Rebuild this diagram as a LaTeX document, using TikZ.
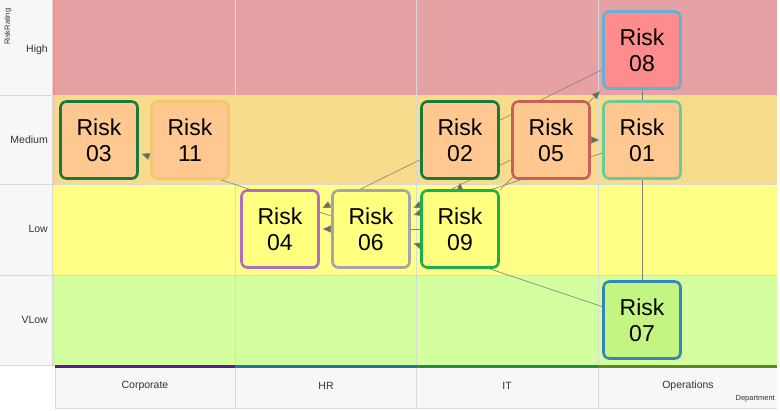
\documentclass[tikz,border=0pt]{standalone}
\usepackage{fontspec}
\setmainfont{Liberation Sans}
\usetikzlibrary{arrows.meta,shadows}
\definecolor{leftbg}{HTML}{F7F7F7}
\definecolor{gridc}{HTML}{D9D9D9}
\definecolor{highbg}{HTML}{E5A1A4}
\definecolor{medbg}{HTML}{F9DC8B}
\definecolor{lowbg}{HTML}{FFFF88}
\definecolor{vlowbg}{HTML}{D4FF9E}
\definecolor{highstrip}{HTML}{FF8A8A}
\definecolor{medstrip}{HTML}{FFC891}
\definecolor{lowstrip}{HTML}{FFFF70}
\definecolor{vlowstrip}{HTML}{C4FF8C}
\definecolor{highfill}{HTML}{FF8C8C}
\definecolor{medfill}{HTML}{FFC891}
\definecolor{lowfill}{HTML}{FFFF80}
\definecolor{vlowfill}{HTML}{C4F583}
\definecolor{dkgreen}{HTML}{187A3C}
\definecolor{ltorange}{HTML}{F3C673}
\definecolor{redbrown}{HTML}{C8605A}
\definecolor{mint}{HTML}{6BCB9A}
\definecolor{ltblue}{HTML}{60B0D8}
\definecolor{purpleb}{HTML}{B06EBB}
\definecolor{grayb}{HTML}{A5A5A5}
\definecolor{brgreen}{HTML}{1AB04A}
\definecolor{blueb}{HTML}{3585B5}
\definecolor{corpc}{HTML}{5B1A8E}
\definecolor{hrc}{HTML}{1A7A9A}
\definecolor{itc}{HTML}{1E9040}
\definecolor{opc}{HTML}{5A8A1A}
\definecolor{edgec}{HTML}{808078}
\definecolor{arrc}{HTML}{6B6B55}
\definecolor{labc}{HTML}{333333}
\pgfdeclarelayer{bg}
\pgfdeclarelayer{edgelayer}
\pgfsetlayers{bg,edgelayer,main}
\begin{document}
\begin{tikzpicture}[x=1pt,y=-1pt,
  risk/.style={draw, line width=2.6pt, rounded corners=6pt, minimum width=77pt,
    minimum height=77pt, align=center, font=\fontsize{23}{26}\selectfont,
    text=black, inner sep=0pt,
    drop shadow={shadow xshift=1.2pt,shadow yshift=-1.5pt,opacity=0.25}},
  link/.style={draw=edgec, line width=0.6pt},
  arr/.style={link, -{Triangle[length=8pt,width=7pt,fill=arrc]}, shorten >=3pt},
  rowlab/.style={anchor=east, font=\fontsize{10.5}{12}\selectfont, text=labc, inner sep=0pt},
  collab/.style={font=\fontsize{10.5}{12}\selectfont, text=labc, inner sep=0pt},
  gridline/.style={draw=gridc, line width=0.7pt}]
\useasboundingbox (0,0) rectangle (780,411);
\begin{pgfonlayer}{bg}
  \fill[white] (0,0) rectangle (780,411);
  \fill[leftbg] (0,0) rectangle (52,365);
  \fill[highbg] (52,0) rectangle (777,95.5);
  \fill[medbg] (52,95.5) rectangle (777,184.5);
  \fill[lowbg] (52,184.5) rectangle (777,275.5);
  \fill[vlowbg] (52,275.5) rectangle (777,365);
  \fill[highstrip] (52,0) rectangle (55,95.5);
  \fill[medstrip] (52,95.5) rectangle (55,184.5);
  \fill[lowstrip] (52,184.5) rectangle (55,275.5);
  \fill[vlowstrip] (52,275.5) rectangle (55,365);
  \draw[gridline] (0,95.5) -- (777,95.5);
  \draw[gridline] (0,184.5) -- (777,184.5);
  \draw[gridline] (0,275.5) -- (777,275.5);
  \draw[gridline] (0,365) -- (55,365);
  \draw[gridline] (52,0) -- (52,365);
  \draw[gridline] (235,0) -- (235,365);
  \draw[gridline] (416,0) -- (416,365);
  \draw[gridline] (598,0) -- (598,365);
  \fill[leftbg] (55,368) rectangle (777,408);
  \draw[gridline] (55,368) -- (55,408) -- (777,408);
  \draw[gridline] (235,368) -- (235,408);
  \draw[gridline] (416,368) -- (416,408);
  \draw[gridline] (598,368) -- (598,408);
  \fill[corpc] (55,365) rectangle (235,368.5);
  \fill[hrc] (235,365) rectangle (416,368.5);
  \fill[itc] (416,365) rectangle (598,368.5);
  \fill[opc] (598,365) rectangle (777,368.5);
\end{pgfonlayer}

% axis labels
\node[rowlab] (lhigh) at (48,50) {High};
\node[rowlab] (lmed) at (48,140) {Medium};
\node[rowlab] (llow) at (48,229) {Low};
\node[rowlab] (lvlow) at (48,320) {VLow};
\node[font=\fontsize{7.5}{9}\selectfont, text=labc, rotate=90, anchor=east, inner sep=0pt] (lrr) at (8,8.5) {RiskRating};
\node[collab] (ccorp) at (145,386) {Corporate};
\node[collab] (chr) at (326,386) {HR};
\node[collab] (cit) at (507,386) {IT};
\node[collab] (cop) at (688,386) {Operations};
\node[font=\fontsize{7.5}{9}\selectfont, text=labc, anchor=east, inner sep=0pt] (ldep) at (775,399) {Department};

% risk nodes
\node[risk, fill=medfill, draw=dkgreen] (r03) at (99,140) {Risk\\03};
\node[risk, fill=medfill, draw=ltorange] (r11) at (190,140) {Risk\\11};
\node[risk, fill=medfill, draw=dkgreen] (r02) at (460,140) {Risk\\02};
\node[risk, fill=medfill, draw=redbrown] (r05) at (551,140) {Risk\\05};
\node[risk, fill=medfill, draw=mint] (r01) at (642,140) {Risk\\01};
\node[risk, fill=highfill, draw=ltblue] (r08) at (642,50) {Risk\\08};
\node[risk, fill=lowfill, draw=purpleb] (r04) at (280,229) {Risk\\04};
\node[risk, fill=lowfill, draw=grayb] (r06) at (371,229) {Risk\\06};
\node[risk, fill=lowfill, draw=brgreen] (r09) at (460,229) {Risk\\09};
\node[risk, fill=vlowfill, draw=blueb] (r07) at (642,320) {Risk\\07};

\begin{pgfonlayer}{edgelayer}
  \draw[arr] (r06) -- (r03);
  \draw[arr] (r08) -- (r04);
  \draw[arr] (r09) -- (r04);
  \draw[arr] (r05) -- (r06);
  \draw[arr] (r01) -- (r06);
  \draw[arr] (r07) -- (r06);
  \draw[arr] (r09) -- (r08);
  \draw[arr] (r05) -- (r01);
  \draw[arr] (r09) -- (r02);
  \draw[link, line width=0.5pt] (r08) -- (r07);
\end{pgfonlayer}
\end{tikzpicture}
\end{document}
